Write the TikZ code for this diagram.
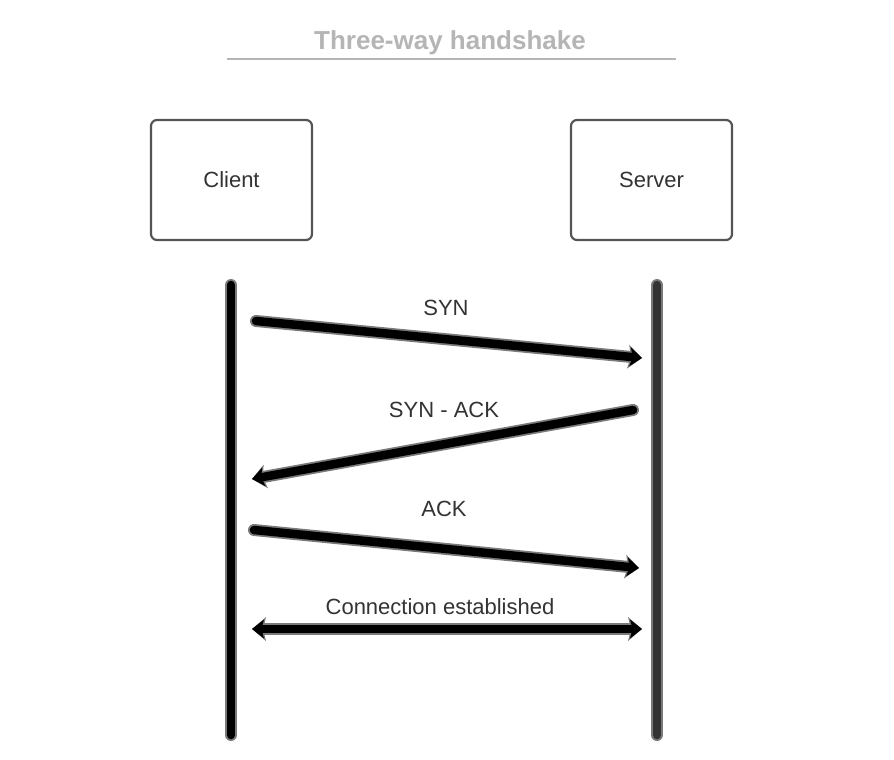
\documentclass[tikz,border=0pt]{standalone}
\usepackage{fontspec}
\setmainfont{Liberation Sans}
\usetikzlibrary{arrows.meta}
\definecolor{txt}{HTML}{333333}
\definecolor{ttl}{HTML}{B5B5B5}
\definecolor{boxedge}{HTML}{555555}
\definecolor{rim}{HTML}{7A7A7A}
\definecolor{srv}{HTML}{333333}
\begin{document}
\begin{tikzpicture}[x=1pt,y=-1pt,
  box/.style={draw=boxedge, line width=2.2pt, rounded corners=6pt, minimum width=161pt, minimum height=120pt, inner sep=0pt, font=\fontsize{22}{26}\selectfont, text=txt},
  lbl/.style={font=\fontsize{22}{26}\selectfont, text=txt, anchor=base, inner sep=0pt},
  rimline/.style={draw=rim, line width=12pt, line cap=round},
  coreline/.style={line width=8.5pt, line cap=round},
  rimtip/.style={-{Stealth[length=14pt,width=24pt,inset=3pt,line width=0pt]}},
  coretip/.style={-{Stealth[length=12pt,width=19pt,inset=2.5pt,line width=0pt]}},
  rimboth/.style={{Stealth[length=14pt,width=24pt,inset=3pt,line width=0pt]}-{Stealth[length=14pt,width=24pt,inset=3pt,line width=0pt]}},
  coreboth/.style={{Stealth[length=12pt,width=19pt,inset=2.5pt,line width=0pt]}-{Stealth[length=12pt,width=19pt,inset=2.5pt,line width=0pt]}}]
\useasboundingbox[fill=white] (0,0) rectangle (894,760);

% title
\node[font=\fontsize{26}{30}\selectfont\bfseries, text=ttl, anchor=base, inner sep=0pt] (title) at (450,50) {Three-way handshake};
\coordinate (ulA) at (227,59);
\coordinate (ulB) at (676,59);
\draw[draw=ttl, line width=2pt] (ulA) -- (ulB);

% participants
\node[box] (client) at (231.5,180) {Client};
\node[box] (server) at (651.5,180) {Server};

% lifelines
\coordinate (cTop) at (231,285);
\coordinate (cBot) at (231,735);
\coordinate (sTop) at (657,285);
\coordinate (sBot) at (657,735);
\draw[rimline] (cTop) -- (cBot);
\draw[coreline, draw=black] (cTop) -- (cBot);
\draw[rimline] (sTop) -- (sBot);
\draw[coreline, draw=srv] (sTop) -- (sBot);

% message end points
\coordinate (m1a) at (256,321);
\coordinate (m1b) at (642,358);
\coordinate (m2a) at (633,410);
\coordinate (m2b) at (252,479);
\coordinate (m3a) at (254,530);
\coordinate (m3b) at (639,568);
\coordinate (m4a) at (252,629);
\coordinate (m4b) at (642,629);

% SYN
\draw[rimline, rimtip, rim] (m1a) -- (m1b);
\draw[coreline, coretip, black] (m1a) -- (m1b);
% SYN-ACK
\draw[rimline, rimtip, rim] (m2a) -- (m2b);
\draw[coreline, coretip, black] (m2a) -- (m2b);
% ACK
\draw[rimline, rimtip, rim] (m3a) -- (m3b);
\draw[coreline, coretip, black] (m3a) -- (m3b);
% Connection established
\draw[rimline, rimboth, rim] (m4a) -- (m4b);
\draw[coreline, coreboth, black] (m4a) -- (m4b);

% labels
\node[lbl] (l1) at (446,315) {SYN};
\node[lbl] (l2) at (444,417) {SYN - ACK};
\node[lbl] (l3) at (444,516) {ACK};
\node[lbl] (l4) at (440,614) {Connection established};
\end{tikzpicture}
\end{document}
